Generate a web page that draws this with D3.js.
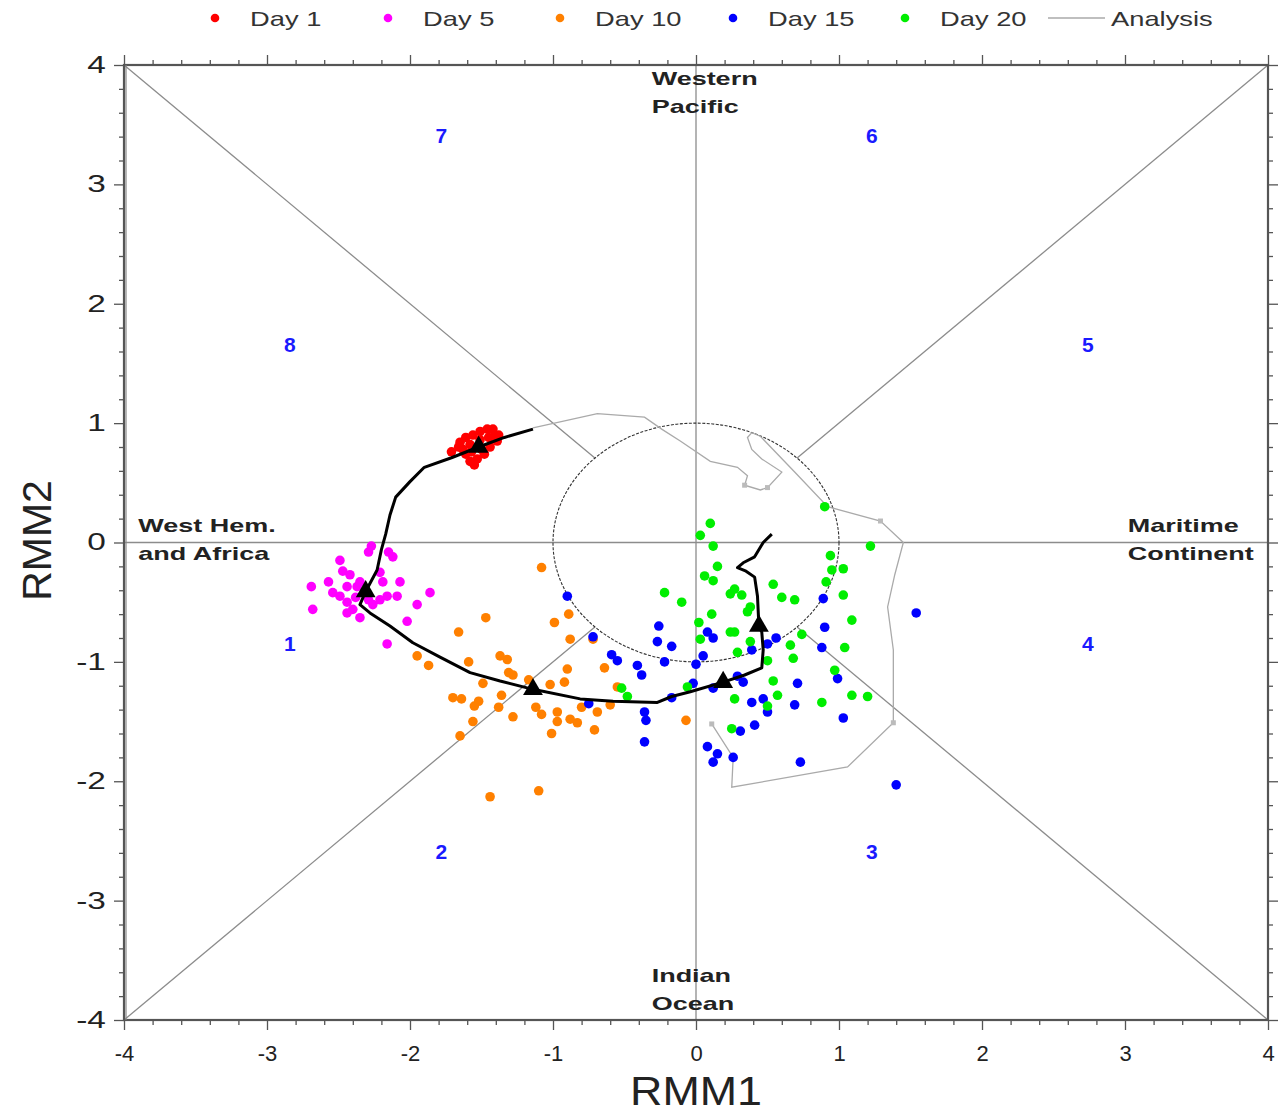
<!DOCTYPE html>
<html>
<head>
<meta charset="utf-8">
<script src="https://cdn.jsdelivr.net/npm/d3@7"></script>
<style>
  body { margin: 0; background: #fff; }
  text { font-family: "Liberation Sans", Arial, sans-serif; }
</style>
</head>
<body>
<div id="chart"></div>
<script>
// ensemble members, [RMM1, RMM2]
const day1 = [
  [-1.71, 0.76], [-1.65, 0.84], [-1.61, 0.88], [-1.56, 0.90], [-1.51, 0.93], [-1.46, 0.95],
  [-1.42, 0.95], [-1.38, 0.90], [-1.39, 0.85], [-1.44, 0.80], [-1.48, 0.74], [-1.53, 0.70],
  [-1.58, 0.68], [-1.55, 0.65], [-1.61, 0.74], [-1.66, 0.80], [-1.58, 0.82], [-1.51, 0.86],
  [-1.45, 0.88], [-1.63, 0.78], [-1.57, 0.76], [-1.50, 0.78], [-1.41, 0.89]
];
const day5 = [
  [-2.27, -0.03], [-2.29, -0.08], [-2.15, -0.08], [-2.12, -0.12], [-2.49, -0.15], [-2.47, -0.24],
  [-2.42, -0.27], [-2.21, -0.25], [-2.57, -0.33], [-2.69, -0.37], [-2.54, -0.42], [-2.44, -0.37],
  [-2.35, -0.33], [-2.19, -0.33], [-2.07, -0.33], [-1.86, -0.42], [-2.09, -0.45], [-2.16, -0.45],
  [-1.95, -0.52], [-2.26, -0.52], [-2.44, -0.50], [-2.68, -0.56], [-2.44, -0.59], [-2.35, -0.63],
  [-2.02, -0.66], [-2.16, -0.85], [-2.37, -0.37], [-2.21, -0.48], [-2.38, -0.46], [-2.31, -0.41],
  [-2.49, -0.45], [-2.40, -0.56], [-2.29, -0.48]
];
const day10 = [
  [-1.08, -0.21], [-1.47, -0.63], [-1.66, -0.75], [-1.87, -1.03], [-1.59, -1.00], [-1.95, -0.95],
  [-1.37, -0.95], [-1.32, -0.98], [-1.31, -1.09], [-1.28, -1.11], [-1.49, -1.18], [-1.17, -1.15],
  [-1.70, -1.30], [-1.64, -1.31], [-1.52, -1.33], [-1.55, -1.37], [-1.36, -1.28], [-1.38, -1.38],
  [-1.56, -1.50], [-1.65, -1.62], [-1.28, -1.46], [-1.12, -1.38], [-1.08, -1.44], [-0.97, -1.42],
  [-0.97, -1.50], [-0.88, -1.48], [-0.83, -1.51], [-1.01, -1.60], [-0.71, -1.57], [-1.02, -1.19],
  [-0.92, -1.17], [-0.90, -1.06], [-0.64, -1.05], [-0.88, -0.81], [-0.99, -0.67], [-0.89, -0.60],
  [-0.80, -1.38], [-0.69, -1.42], [-0.60, -1.36], [-0.55, -1.21], [-1.44, -2.13], [-1.10, -2.08],
  [-0.72, -0.81], [-0.07, -1.49]
];
const day15 = [
  [-0.90, -0.45], [-0.72, -0.79], [-0.59, -0.94], [-0.55, -0.99], [-0.41, -1.03], [-0.38, -1.11],
  [-0.75, -1.35], [-0.36, -1.42], [-0.35, -1.49], [-0.36, -1.67], [-0.26, -0.70], [-0.27, -0.83],
  [-0.17, -0.87], [-0.22, -1.00], [-0.17, -1.30], [0.00, -1.02], [-0.02, -1.18], [0.05, -0.95],
  [0.08, -0.75], [0.12, -0.80], [0.08, -1.71], [0.15, -1.77], [0.12, -1.84], [0.26, -1.80],
  [0.31, -1.58], [0.41, -1.53], [0.39, -1.34], [0.47, -1.31], [0.50, -1.42], [0.33, -1.17],
  [0.29, -1.12], [0.39, -0.90], [0.50, -0.85], [0.56, -0.80], [0.69, -1.36], [0.71, -1.18],
  [0.88, -0.88], [0.90, -0.71], [0.89, -0.47], [0.99, -1.14], [1.03, -1.47], [0.73, -1.84],
  [1.54, -0.59], [1.40, -2.03], [0.12, -1.22]
];
const day20 = [
  [0.90, 0.30], [0.10, 0.16], [0.03, 0.06], [0.12, -0.03], [1.22, -0.03], [0.94, -0.11],
  [0.15, -0.20], [0.06, -0.28], [0.12, -0.32], [0.95, -0.23], [1.03, -0.22], [0.91, -0.33],
  [0.54, -0.35], [0.24, -0.43], [0.27, -0.39], [0.32, -0.44], [0.60, -0.46], [0.69, -0.48],
  [1.03, -0.44], [0.38, -0.54], [0.36, -0.58], [0.11, -0.60], [1.09, -0.65], [0.02, -0.67],
  [0.24, -0.75], [0.27, -0.75], [0.38, -0.83], [0.74, -0.77], [0.66, -0.86], [1.04, -0.88],
  [0.03, -0.81], [0.29, -0.92], [0.68, -0.97], [0.50, -0.99], [0.97, -1.07], [0.54, -1.16],
  [0.57, -1.28], [0.27, -1.31], [0.50, -1.37], [0.88, -1.34], [1.09, -1.28], [1.20, -1.29],
  [0.25, -1.56], [-0.22, -0.42], [-0.10, -0.50], [-0.52, -1.22], [-0.48, -1.29], [-0.06, -1.21]
];

// ensemble mean track and the points marked with triangles (days 1, 5, 10, 15, 20)
const ensembleMean = [
  [-1.14, 0.95], [-1.34, 0.88], [-1.52, 0.80], [-1.71, 0.71], [-1.90, 0.63], [-2.00, 0.51],
  [-2.10, 0.38], [-2.14, 0.23], [-2.17, 0.07], [-2.20, -0.06], [-2.23, -0.23], [-2.31, -0.41],
  [-2.35, -0.52], [-2.28, -0.59], [-2.14, -0.70], [-1.98, -0.84], [-1.79, -0.96], [-1.58, -1.09],
  [-1.37, -1.16], [-1.14, -1.23], [-0.81, -1.31], [-0.58, -1.33], [-0.27, -1.34], [-0.17, -1.29],
  [-0.04, -1.25], [0.19, -1.17], [0.34, -1.11], [0.46, -1.05], [0.47, -0.90], [0.46, -0.75],
  [0.44, -0.70], [0.43, -0.45], [0.41, -0.29], [0.35, -0.24], [0.29, -0.21], [0.33, -0.17],
  [0.41, -0.12], [0.47, 0.00], [0.53, 0.07]
];
const meanMarkers = [2, 11, 19, 25, 30];

// verifying analysis
const analysis = [
  [-1.14, 0.96], [-0.69, 1.08], [-0.36, 1.05], [-0.24, 0.95], [-0.11, 0.85], [0.10, 0.68],
  [0.29, 0.63], [0.36, 0.56], [0.34, 0.48], [0.45, 0.44], [0.50, 0.46], [0.60, 0.59],
  [0.46, 0.70], [0.39, 0.78], [0.36, 0.88], [0.39, 0.92], [0.45, 0.89], [0.69, 0.59],
  [0.92, 0.30], [1.29, 0.18], [1.45, 0.00], [1.39, -0.27], [1.34, -0.54], [1.38, -0.90],
  [1.38, -1.51], [1.06, -1.88], [0.25, -2.05], [0.26, -1.80], [0.11, -1.52]
];
const analysisMarkers = [8, 10, 19, 24, 28];

const seriesNames = ['Day 1', 'Day 5', 'Day 10', 'Day 15', 'Day 20'];
const seriesColors = ['#ff0000', '#ff00ff', '#ff8000', '#0000ff', '#00ee00'];
const seriesData = [day1, day5, day10, day15, day20];

const majorTicks = [-4, -3, -2, -1, 0, 1, 2, 3, 4];
const minorTicks = d3.range(-4, 4.001, 0.2).filter(v => Math.abs(v - Math.round(v)) > 1e-6);

const phaseLabels = [
  {text: '1', x: -2.84, y: -0.85}, {text: '2', x: -1.78, y: -2.59},
  {text: '3', x: 1.23, y: -2.59}, {text: '4', x: 2.74, y: -0.85},
  {text: '5', x: 2.74, y: 1.66}, {text: '6', x: 1.23, y: 3.41},
  {text: '7', x: -1.78, y: 3.41}, {text: '8', x: -2.84, y: 1.66}
];
const regionLabels = [
  {lines: ['Western', 'Pacific'], x: -0.31, y: 3.83},
  {lines: ['Indian', 'Ocean'], x: -0.31, y: -3.68},
  {lines: ['West Hem.', 'and Africa'], x: -3.9, y: 0.09},
  {lines: ['Maritime', 'Continent'], x: 3.02, y: 0.09}
];

const W = 1280, H = 1114;
const svg = d3.select('#chart').append('svg').attr('width', W).attr('height', H);

const x = d3.scaleLinear().domain([-4, 4]).range([124, 1268]);
const y = d3.scaleLinear().domain([-4, 4]).range([1020, 65]);

// widen glyphs, the original has a stretched look
function stretch(sel, k) {
  sel.each(function() {
    const len = this.getComputedTextLength();
    d3.select(this).attr('textLength', len * k).attr('lengthAdjust', 'spacingAndGlyphs');
  });
}

// guide lines
const guide = svg.append('g').attr('stroke', '#8c8c8c').attr('stroke-width', 1.3).attr('fill', 'none');
const r = Math.SQRT1_2;
[[[-4, 0], [4, 0]], [[0, -4], [0, 4]],
 [[r, r], [4, 4]], [[-r, -r], [-4, -4]], [[-r, r], [-4, 4]], [[r, -r], [4, -4]]]
  .forEach(seg => {
    guide.append('line')
      .attr('x1', x(seg[0][0])).attr('y1', y(seg[0][1]))
      .attr('x2', x(seg[1][0])).attr('y2', y(seg[1][1]));
  });

svg.append('ellipse')
  .attr('cx', x(0)).attr('cy', y(0))
  .attr('rx', x(1) - x(0)).attr('ry', y(0) - y(1))
  .attr('fill', 'none').attr('stroke', '#333').attr('stroke-width', 1.1)
  .attr('stroke-dasharray', '3,1.5');

// axes, ticks outward on all four sides
function addAxis(axisFn, transform, labels) {
  const g = svg.append('g').attr('transform', transform);
  g.call(axisFn.tickValues(minorTicks).tickSize(5).tickFormat(''));
  const g2 = svg.append('g').attr('transform', transform);
  g2.call(axisFn.tickValues(majorTicks).tickSize(10).tickPadding(labels ? 15 : 0)
    .tickFormat(labels ? (d => String(d)) : ''));
  [g, g2].forEach(s => {
    s.select('.domain').remove();
    s.selectAll('line').attr('stroke', '#555').attr('stroke-width', 1.3);
  });
  g2.selectAll('text').attr('font-size', 22).attr('fill', '#222');
  return g2;
}
addAxis(d3.axisBottom(x), `translate(0,${y(-4)})`, true);
addAxis(d3.axisTop(x), `translate(0,${y(4)})`, false);
const left = addAxis(d3.axisLeft(y), `translate(${x(-4)},0)`, true);
left.selectAll('text').attr('font-size', 23).attr('dx', '0.3em');
stretch(left.selectAll('text'), 1.45);
addAxis(d3.axisRight(y), `translate(${x(4)},0)`, false);

svg.append('rect')
  .attr('x', x(-4)).attr('y', y(4))
  .attr('width', x(4) - x(-4)).attr('height', y(-4) - y(4))
  .attr('fill', 'none').attr('stroke', '#555').attr('stroke-width', 2.2);
svg.append('line')
  .attr('x1', x(-4) + 2).attr('x2', x(-4) + 2).attr('y1', y(4)).attr('y2', y(-4))
  .attr('stroke', '#888').attr('stroke-width', 1.2);

// region and phase labels
regionLabels.forEach(d => {
  const t = svg.append('text')
    .attr('x', x(d.x)).attr('y', y(d.y))
    .attr('font-size', 19).attr('font-weight', 'bold').attr('fill', '#222');
  d.lines.forEach((line, i) => {
    t.append('tspan').attr('x', x(d.x)).attr('dy', i === 0 ? 0 : 28).text(line);
  });
  stretch(t.selectAll('tspan'), 1.42);
});

svg.append('g').selectAll('text')
  .data(phaseLabels).join('text')
  .attr('x', d => x(d.x)).attr('y', d => y(d.y))
  .attr('text-anchor', 'middle').attr('dy', '0.35em')
  .attr('font-size', 21).attr('font-weight', 'bold').attr('fill', '#1a1aff')
  .text(d => d.text);

// analysis track
svg.append('path')
  .datum(analysis)
  .attr('fill', 'none').attr('stroke', '#aaa').attr('stroke-width', 1.3)
  .attr('d', d3.line().x(d => x(d[0])).y(d => y(d[1])));
svg.append('g').selectAll('rect')
  .data(analysisMarkers.map(i => analysis[i])).join('rect')
  .attr('x', d => x(d[0]) - 2.5).attr('y', d => y(d[1]) - 2.5)
  .attr('width', 5).attr('height', 5).attr('fill', '#bbb');

// ensemble members
seriesData.forEach((pts, i) => {
  svg.append('g').selectAll('circle')
    .data(pts).join('circle')
    .attr('cx', d => x(d[0])).attr('cy', d => y(d[1]))
    .attr('r', 4.8).attr('fill', seriesColors[i]);
});

// ensemble mean
svg.append('path')
  .datum(ensembleMean)
  .attr('fill', 'none').attr('stroke', '#000').attr('stroke-width', 3)
  .attr('stroke-linejoin', 'round')
  .attr('d', d3.line().x(d => x(d[0])).y(d => y(d[1])));
svg.append('g').selectAll('path')
  .data(meanMarkers.map(i => ensembleMean[i])).join('path')
  .attr('transform', d => `translate(${x(d[0])},${y(d[1])})`)
  .attr('d', d3.symbol(d3.symbolTriangle).size(170))
  .attr('fill', '#000');

// axis titles
const xt = svg.append('text')
  .attr('x', x(0)).attr('y', 1105)
  .attr('text-anchor', 'middle').attr('font-size', 40).attr('fill', '#222')
  .text('RMM1');
stretch(xt, 1.12);
const yt = svg.append('text')
  .attr('transform', `translate(51,${y(0) - 2}) rotate(-90)`)
  .attr('text-anchor', 'middle').attr('font-size', 41).attr('fill', '#222')
  .text('RMM2');

// legend
const legend = svg.append('g');
const legX = [215, 388, 560, 733, 905];
seriesNames.forEach((name, i) => {
  legend.append('circle').attr('cx', legX[i]).attr('cy', 18).attr('r', 4.3).attr('fill', seriesColors[i]);
  legend.append('text').attr('x', legX[i] + 35).attr('y', 26)
    .attr('font-size', 21).attr('fill', '#333').text(name);
});
legend.append('line').attr('x1', 1048).attr('x2', 1105).attr('y1', 18).attr('y2', 18)
  .attr('stroke', '#aaa').attr('stroke-width', 1.3);
legend.append('text').attr('x', 1111).attr('y', 26)
  .attr('font-size', 21).attr('fill', '#333').text('Analysis');
stretch(legend.selectAll('text'), 1.3);
</script>
</body>
</html>
